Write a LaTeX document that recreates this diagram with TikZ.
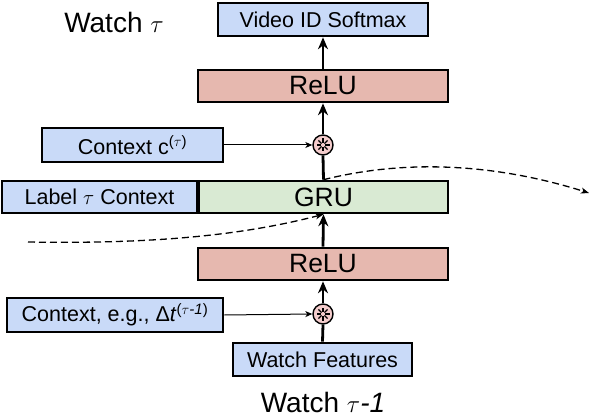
\documentclass[tikz,border=0pt]{standalone}
\usepackage{fontspec}
\setmainfont{Liberation Sans}
\usetikzlibrary{arrows.meta}
\definecolor{bluebox}{HTML}{C9DAF8}
\definecolor{redbox}{HTML}{E6B8AF}
\definecolor{greenbox}{HTML}{D9EAD3}
\definecolor{pinkc}{HTML}{F4CCCC}
\tikzset{
  box/.style={draw=black, line width=2.6pt, inner sep=0pt, align=center},
  bluebx/.style={box, fill=bluebox, font=\fontsize{21.5}{24}\selectfont},
  redbx/.style={box, fill=redbox, font=\fontsize{26.5}{30}\selectfont},
  greenbx/.style={box, fill=greenbox, font=\fontsize{26.5}{30}\selectfont},
  mult/.style={circle, draw=black, line width=1.4pt, fill=pinkc, minimum size=20pt, inner sep=0pt},
  thick arrow/.style={line width=2.8pt, -{Stealth[length=12pt,width=10pt,inset=4pt]}},
  thick line/.style={line width=2.8pt},
  thin arrow/.style={line width=1pt, -{Stealth[length=7pt,width=6pt,inset=2pt]}},
  dash arrow/.style={line width=1.3pt, dash pattern=on 7pt off 4pt, -{Stealth[length=8pt,width=6pt,inset=2pt]}},
  title/.style={font=\fontsize{28}{32}\selectfont, anchor=base, inner sep=0pt}
}
\begin{document}
\begin{tikzpicture}[x=1pt,y=-1pt]
\useasboundingbox (0,0) rectangle (590,420);
\node[bluebx, minimum width=210pt, minimum height=33pt] (vid) at (323,19.5) {Video ID Softmax};
\node[redbx, minimum width=250pt, minimum height=32pt] (relu2) at (323,86) {ReLU};
\node[bluebx, minimum width=181pt, minimum height=34pt] (ctx) at (132.5,145) {Context c\textsuperscript{(\(\tau\))}};
\node[mult] (m2) at (323,145) {};
\node[bluebx, minimum width=195pt, minimum height=32pt] (lab) at (99.5,197) {Label \(\tau\) Context};
\node[greenbx, minimum width=249pt, minimum height=32pt] (gru) at (323.5,197) {GRU};
\node[redbx, minimum width=250pt, minimum height=32pt] (relu1) at (323,264) {ReLU};
\node[bluebx, minimum width=216pt, minimum height=34pt] (ctx2) at (115,315) {Context, e.g., Δ\textit{t}\textsuperscript{(\(\tau\)\textit{-1})}};
\node[mult] (m1) at (323,314) {};
\node[bluebx, minimum width=179pt, minimum height=33pt] (wf) at (322.5,359.5) {Watch Features};
\node[title] (wt) at (114,33) {Watch \(\tau\)};
\node[title] (wt1) at (323,412) {Watch \(\tau\)\textit{-1}};
% asterisks
\foreach \mm in {m1,m2}{
  \foreach \a in {0,45,...,315}{
    \draw[line width=1.3pt] ([shift={(\a:2pt)}]\mm.center) -- ([shift={(\a:6.5pt)}]\mm.center);
  }
}
% connectors
\draw[thick line] (wf.north) -- (m1.south);
\draw[thick arrow] (m1.north) -- (relu1.south);
\draw[thick arrow] (relu1.north) -- (gru.south);
\draw[thick line] (gru.north) -- (m2.south);
\draw[thick arrow] (m2.north) -- (relu2.south);
\draw[thick arrow] (relu2.north) -- (vid.south);
\draw[thin arrow] (ctx.east) -- (m2.west);
\draw[thin arrow] (ctx2.east) -- (m1.west);
\coordinate (din) at (28,242);
\coordinate (dout) at (589,193);
\draw[dash arrow] (din) .. controls (150,244) and (240,236) .. (gru.south);
\draw[dash arrow] (gru.north) .. controls (410,158) and (500,165) .. (dout);
\end{tikzpicture}
\end{document}
